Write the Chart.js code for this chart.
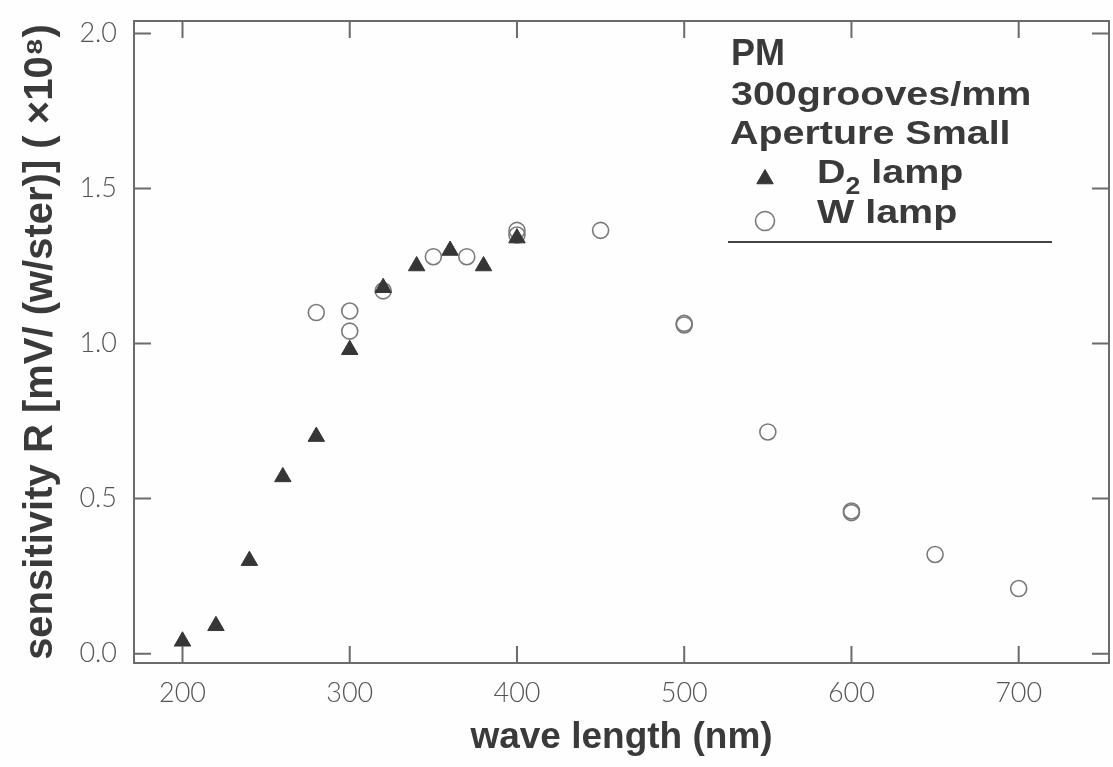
<!DOCTYPE html>
<html>
<head>
<meta charset="utf-8">
<title>sensitivity R</title>
<script src="https://cdn.jsdelivr.net/npm/chart.js@4.4.1/dist/chart.umd.min.js"></script>
<style>
  html, body { margin: 0; padding: 0; background: #fefefe; }
  #wrap { width: 1113px; height: 767px; }
</style>
</head>
<body>
<div id="wrap"><canvas id="myChart" width="1113" height="767"></canvas></div>
<script>
// D2 lamp (triangles)
const d2Wave = [200, 220, 240, 260, 280, 300, 320, 340, 360, 380, 400];
const d2Sens = [0.04, 0.09, 0.30, 0.57, 0.70, 0.98, 1.18, 1.25, 1.30, 1.25, 1.34];

// W lamp (circles)
const wWave = [280, 300, 300, 320, 350, 370, 400, 400, 450, 500, 500, 550, 600, 600, 650, 700];
const wSens = [1.10, 1.105, 1.04, 1.17, 1.28, 1.28, 1.365, 1.35, 1.365, 1.06, 1.065, 0.715, 0.46, 0.455, 0.32, 0.21];

const xTicks = [200, 300, 400, 500, 600, 700];
const yTicks = [0.0, 0.5, 1.0, 1.5, 2.0];

const legendHead = ['PM', '300grooves/mm', 'Aperture Small'];

const ink = '#3a3a3a';
const frameColor = '#6b6b6b';
const boldFont = "'Liberation Sans', Arial, Helvetica, sans-serif";
const tickFont = "Lato, 'Open Sans', sans-serif";

function toPoints(xs, ys) {
  return xs.map((x, i) => ({ x: x, y: ys[i] }));
}

// frame + inward tick marks on all four sides
const FramePlugin = {
  id: 'frame',
  afterDatasetsDraw: (chart) => {
    const { ctx, chartArea: a, scales } = chart;
    const len = 17;
    ctx.save();
    ctx.strokeStyle = frameColor;
    ctx.lineWidth = 2;
    ctx.strokeRect(a.left, a.top, a.right - a.left, a.bottom - a.top);
    ctx.beginPath();
    xTicks.forEach(v => {
      const px = scales.x.getPixelForValue(v);
      ctx.moveTo(px, a.bottom); ctx.lineTo(px, a.bottom - len);
      ctx.moveTo(px, a.top); ctx.lineTo(px, a.top + len);
    });
    yTicks.forEach(v => {
      const py = scales.y.getPixelForValue(v);
      ctx.moveTo(a.left, py); ctx.lineTo(a.left + len, py);
      ctx.moveTo(a.right, py); ctx.lineTo(a.right - len, py);
    });
    ctx.stroke();
    ctx.restore();
  }
};

// stretched bold text, like the typeset labels
function wideText(ctx, txt, x, y, size, stretch) {
  ctx.save();
  ctx.translate(x, y);
  ctx.scale(stretch, 1);
  ctx.font = 'bold ' + size + 'px ' + boldFont;
  ctx.fillText(txt, 0, 0);
  const w = ctx.measureText(txt).width * stretch;
  ctx.restore();
  return w;
}

// legend block in the upper right corner
const LegendPlugin = {
  id: 'legendBlock',
  afterDraw: (chart) => {
    const { ctx } = chart;
    const x0 = 731;
    const st = 1.16;
    ctx.save();
    ctx.fillStyle = ink;
    ctx.textBaseline = 'alphabetic';
    ctx.textAlign = 'left';

    wideText(ctx, legendHead[0], x0, 65, 36, 1.0);
    wideText(ctx, legendHead[1], x0, 105, 34, st);
    wideText(ctx, legendHead[2], x0 - 1, 144, 34, st);

    // markers take the dataset styles
    chart.data.datasets.forEach((ds, i) => {
      const my = i === 0 ? 179 : 221;
      ctx.save();
      ctx.fillStyle = ds.backgroundColor;
      ctx.strokeStyle = ds.borderColor;
      ctx.lineWidth = ds.borderWidth;
      Chart.helpers.drawPoint(ctx, {
        pointStyle: ds.pointStyle,
        radius: 9.5,
        rotation: 0,
        borderWidth: ds.borderWidth
      }, 765, my);
      ctx.restore();
    });

    // D2 lamp with subscript
    let x = 817;
    x += wideText(ctx, 'D', x, 183, 34, st);
    x += wideText(ctx, '2', x, 194, 23, st);
    wideText(ctx, ' lamp', x, 183, 34, st);
    wideText(ctx, 'W lamp', 817, 223, 34, st);

    ctx.strokeStyle = '#444';
    ctx.lineWidth = 2;
    ctx.beginPath();
    ctx.moveTo(728, 242);
    ctx.lineTo(1052, 242);
    ctx.stroke();
    ctx.restore();
  }
};

new Chart('myChart', {
  type: 'scatter',
  data: {
    datasets: [{
      label: 'D2 lamp',
      data: toPoints(d2Wave, d2Sens),
      pointStyle: 'triangle',
      pointRadius: 9.5,
      backgroundColor: '#363636',
      borderColor: '#363636',
      borderWidth: 1
    }, {
      label: 'W lamp',
      data: toPoints(wWave, wSens),
      pointStyle: 'circle',
      pointRadius: 8,
      backgroundColor: 'rgba(255,255,255,0)',
      borderColor: '#7a7a7a',
      borderWidth: 1.6
    }]
  },
  options: {
    responsive: false,
    animation: false,
    layout: { autoPadding: false, padding: { top: 21, right: 4, left: 0, bottom: 0 } },
    plugins: {
      legend: { display: false },
      tooltip: { enabled: false }
    },
    scales: {
      x: {
        type: 'linear',
        min: 171,
        max: 754,
        afterFit: (s) => { s.height = 104; s.paddingLeft = 0; s.paddingRight = 0; },
        afterBuildTicks: (s) => { s.ticks = xTicks.map(v => ({ value: v })); },
        grid: { display: false, drawTicks: false },
        border: { display: false },
        ticks: {
          padding: 14,
          color: '#555',
          font: { family: tickFont, size: 27, weight: '300' },
          callback: (v) => String(v)
        },
        title: {
          display: true,
          text: 'wave length (nm)',
          color: ink,
          padding: { top: 0, bottom: 7 },
          font: { family: boldFont, size: 37, weight: 'bold', lineHeight: 1.2 }
        }
      },
      y: {
        type: 'linear',
        min: -0.03,
        max: 2.04,
        afterFit: (s) => { s.width = 134; s.paddingTop = 0; s.paddingBottom = 0; },
        afterBuildTicks: (s) => { s.ticks = yTicks.map(v => ({ value: v })); },
        grid: { display: false, drawTicks: false },
        border: { display: false },
        ticks: {
          padding: 17,
          color: '#555',
          font: { family: tickFont, size: 27, weight: '300' },
          callback: (v) => Number(v).toFixed(1)
        },
        title: {
          display: true,
          text: 'sensitivity R [mV/ (w/ster)] ( \u00d710\u2078)',
          color: ink,
          padding: { top: 17, bottom: 0 },
          font: { family: boldFont, size: 40, weight: 'bold', lineHeight: 1.2 }
        }
      }
    }
  },
  plugins: [FramePlugin, LegendPlugin]
});
</script>
</body>
</html>
